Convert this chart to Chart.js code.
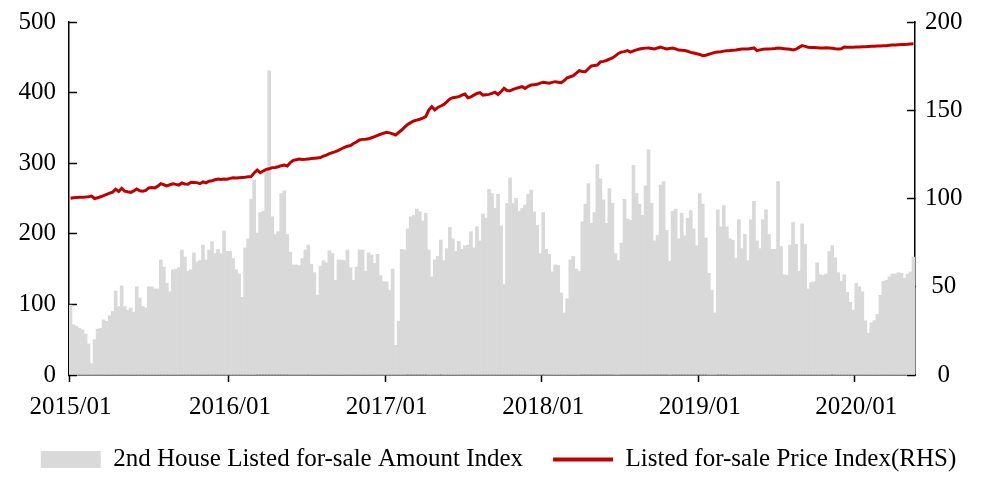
<!DOCTYPE html>
<html>
<head>
<meta charset="utf-8">
<title>Listed for-sale index</title>
<script src="https://cdn.jsdelivr.net/npm/chart.js@4.4.1/dist/chart.umd.min.js"></script>
<style>
  body { margin: 0; background: #fff; }
  .chart-box { width: 997px; height: 485px; }
</style>
</head>
<body>
<div class="chart-box"><canvas id="listingChart"></canvas></div>
<script>
// weekly data, first week is 2015/01
const firstWeek = '2015-01-01';

const amountIndex = [
  99,71,69,66,64,58,44,16,50,65, 66,78,76,84,90,119,97,126,97,92,
  95,89,125,109,97,95,125,125,122,122, 163,153,130,118,149,150,152,177,167,147,
  149,173,160,162,184,163,
  177,189,172,178,172,204,175,175,165,149, 143,110,180,193,249,276,201,230,232,290,
  431,224,199,203,257,261,199,174,156,156, 155,165,177,184,157,145,113,154,162,159,
  176,172,134,163,163,162,
  177,152,134,153,177,177,147,173,170,158, 171,141,132,132,120,150,42,76,178,177,
  207,224,226,235,231,218,229,177,139,163, 168,191,162,179,209,193,175,189,178,183,
  184,203,180,210,190,228,222,263,
  257,236,256,211,128,243,279,243,250,232, 236,241,256,262,231,212,172,230,178,171,
  146,156,155,116,88,108,163,168,150,147, 217,242,271,215,230,298,278,248,215,264,
  243,172,162,187,249,221,219,
  297,257,242,226,268,319,243,190,198,269, 274,205,161,232,235,193,229,197,222,233,
  207,183,257,242,194,144,120,88,234,210, 240,210,193,191,165,220,179,199,162,220,
  246,190,179,220,234,199,
  178,178,274,182,142,141,184,216,185,147, 214,185,122,131,132,159,142,141,143,175,
  183,166,145,133,142,117,103,92,130,125, 118,77,59,74,77,86,113,133,134,139,
  143,143,145,144,137,143,146,167
];

const priceIndex = [
  100.1,100.4,100.6,100.7,100.7,100.8,101.0,101.4,100.0,100.4,
  101.0,101.6,102.3,103.0,103.6,105.3,104.0,105.8,104.2,103.8,
  103.5,104.3,105.4,104.4,104.1,104.6,106.0,106.2,106.0,107.0,
  108.4,107.8,107.2,107.8,108.3,108.0,107.6,108.8,108.2,108.1,
  109.2,109.1,109.0,108.4,109.4,108.9,
  109.8,110.1,110.6,111.0,110.8,111.0,110.9,111.4,111.8,111.6,
  111.8,111.9,112.0,112.3,112.4,114.5,116.1,114.6,115.6,116.5,
  116.8,117.5,117.6,118.0,118.6,119.0,118.4,120.4,121.6,122.0,
  122.4,122.1,122.2,122.4,122.6,122.8,123.0,123.2,124.0,124.6,
  125.4,126.0,126.6,127.3,128.2,129.0,129.6,
  130.0,131.2,132.0,133.2,133.5,133.6,133.8,134.4,135.0,135.8,
  136.4,137.0,137.5,137.2,136.6,136.0,137.4,138.8,140.4,142.0,
  143.0,143.9,144.4,144.9,145.6,146.4,150.1,152.0,150.2,151.6,
  152.4,153.3,154.8,156.4,157.1,157.4,157.7,158.6,159.2,157.1,
  157.6,158.6,159.5,160.0,158.6,158.8,159.0,
  159.6,160.2,158.9,160.5,162.4,161.2,161.0,161.8,162.4,162.9,
  163.4,162.4,163.6,164.3,164.5,164.7,165.4,165.8,165.6,165.3,
  165.8,166.2,165.9,165.6,166.8,168.4,169.0,169.6,171.0,172.4,
  172.0,171.8,173.5,175.1,175.4,175.6,177.4,177.7,178.2,179.0,
  179.6,180.8,182.2,183.0,183.2,183.8,
  182.9,183.6,184.2,184.7,185.0,185.2,185.3,185.0,184.7,185.3,
  185.8,185.2,184.7,185.0,185.3,184.8,184.1,184.0,183.8,183.4,
  182.8,182.4,182.0,181.6,180.9,181.2,181.7,182.2,182.8,183.0,
  183.2,183.5,183.7,183.8,184.0,184.1,184.4,184.7,184.7,184.7,
  185.0,185.3,183.8,184.2,184.6,184.7,184.7,
  184.8,185.0,185.3,185.1,184.9,184.7,184.5,184.2,184.6,185.6,
  186.6,186.2,185.7,185.6,185.5,185.4,185.3,185.3,185.4,185.3,
  185.1,184.8,184.7,184.8,185.8,185.7,185.7,185.7,185.8,185.9,
  186.0,186.0,186.1,186.2,186.3,186.4,186.4,186.5,186.6,186.8,
  186.9,187.0,187.1,187.2,187.3,187.4,187.6,187.7
];

const leftTicks = [0, 100, 200, 300, 400, 500];
const rightTicks = [0, 50, 100, 150, 200];
const seriesNames = ['2nd House Listed for-sale Amount Index', 'Listed for-sale Price Index(RHS)'];

// one label per week, e.g. 2016/01
const weeks = amountIndex.map((v, i) => {
  const d = new Date(firstWeek + 'T00:00:00Z');
  d.setUTCDate(d.getUTCDate() + 7 * i);
  return d.getUTCFullYear() + '/' + String(d.getUTCMonth() + 1).padStart(2, '0');
});

// x tick only where a new year starts
const isYearStart = i => i === 0 || (i > 0 && i < weeks.length && weeks[i].slice(0, 4) !== weeks[i - 1].slice(0, 4));

const serif = '"Liberation Serif", "Times New Roman", serif';
Chart.defaults.font.family = serif;
Chart.defaults.font.size = 25;
Chart.defaults.color = '#000';

// fixed axis width; tick padding should not push the plot down
const fixWidth = w => s => {
  s.width = w;
  s.paddingTop = 0;
  s.paddingBottom = 0;
};

const ctx = document.getElementById('listingChart');

new Chart(ctx, {
  type: 'bar',
  data: {
    labels: weeks,
    datasets: [
      {
        type: 'bar',
        label: seriesNames[0],
        data: amountIndex,
        yAxisID: 'y',
        backgroundColor: '#d9d9d9',
        borderWidth: 0,
        barPercentage: 1,
        categoryPercentage: 1,
        pointStyle: 'rect',
        order: 1
      },
      {
        type: 'line',
        label: seriesNames[1],
        data: priceIndex,
        yAxisID: 'y1',
        borderColor: '#c00000',
        backgroundColor: '#c00000',
        borderWidth: 3,
        pointRadius: 0,
        pointBorderWidth: 4,
        pointStyle: 'line',
        tension: 0,
        order: 0
      }
    ]
  },
  options: {
    responsive: true,
    maintainAspectRatio: false,
    animation: false,
    layout: { padding: { top: 22, bottom: 3, left: 0, right: 0 } },
    plugins: {
      tooltip: { enabled: false },
      legend: {
        position: 'bottom',
        labels: {
          usePointStyle: true,
          pointStyleWidth: 60,
          boxHeight: 17,
          padding: 30,
          color: '#000',
          font: { size: 25, family: serif },
          sort: (a, b) => a.datasetIndex - b.datasetIndex
        }
      }
    },
    scales: {
      x: {
        ticks: {
          autoSkip: false,
          maxRotation: 0,
          padding: 10,
          callback: (val, i) => isYearStart(i) ? weeks[i] : ''
        },
        grid: {
          drawOnChartArea: false,
          tickLength: 7,
          tickWidth: 1.5,
          tickColor: c => isYearStart(c.index) ? '#000' : 'rgba(0,0,0,0)'
        },
        border: { color: '#000', width: 1.5 },
        afterFit: s => { s.height = 42; }
      },
      y: {
        position: 'left',
        min: leftTicks[0],
        max: leftTicks[leftTicks.length - 1],
        ticks: { stepSize: leftTicks[1] - leftTicks[0], padding: 21 },
        grid: { drawOnChartArea: false, tickLength: -8, tickWidth: 1.5, tickColor: '#000' },
        border: { color: '#000', width: 1.5 },
        afterFit: fixWidth(69)
      },
      y1: {
        position: 'right',
        min: rightTicks[0],
        max: rightTicks[rightTicks.length - 1],
        ticks: { stepSize: rightTicks[1] - rightTicks[0], padding: 18, crossAlign: 'center' },
        grid: { drawOnChartArea: false, tickLength: -8, tickWidth: 1.5, tickColor: '#000' },
        border: { color: '#000', width: 1.5 },
        afterFit: fixWidth(82)
      }
    }
  }
});
</script>
</body>
</html>
